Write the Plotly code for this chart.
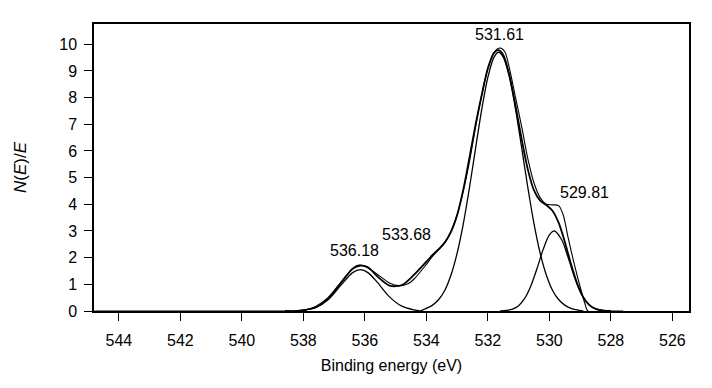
import plotly.graph_objects as go

# ---- data (binding energy in eV, N(E)/E) ----
# measured spectrum (thin line)
data_x = [544.8, 539.0, 538.4, 538.0, 537.6, 537.2, 536.8, 536.4, 536.2, 536.0, 535.6,
          535.2, 534.9, 534.6, 534.4, 534.0, 533.8, 533.6, 533.4, 533.2, 533.0, 532.8,
          532.6, 532.4, 532.2, 532.0, 531.8, 531.6, 531.45, 531.3, 531.1, 530.9, 530.7,
          530.5, 530.3, 530.1, 529.9, 529.7, 529.55, 529.4, 529.2, 529.0, 528.85, 528.75,
          528.0, 527.6]
data_y = [0.0, 0.0, 0.0, 0.02, 0.17, 0.5, 1.05, 1.6, 1.72, 1.68, 1.38,
          1.05, 0.95, 1.02, 1.2, 1.75, 2.05, 2.3, 2.55, 3.0, 3.6, 4.5,
          5.6, 6.9, 8.1, 9.1, 9.7, 9.86, 9.72, 9.1, 8.0, 6.9, 5.7,
          4.8, 4.25, 4.0, 3.98, 3.95, 3.6, 2.8, 1.8, 0.9, 0.3, 0.0,
          0.0, 0.0]

# fitted envelope (thicker line)
fit_x = [538.6, 538.2, 538.0, 537.6, 537.2, 536.8, 536.4, 536.15, 535.9, 535.6, 535.2,
         534.8, 534.4, 534.0, 533.8, 533.6, 533.4, 533.2, 533.0, 532.8, 532.6, 532.4,
         532.2, 532.0, 531.8, 531.65, 531.5, 531.3, 531.1, 530.9, 530.7, 530.5, 530.3,
         530.1, 529.9, 529.7, 529.5, 529.3, 529.1, 528.9, 528.7, 528.5, 528.3, 528.0]
fit_y = [0.0, 0.0, 0.03, 0.14, 0.45, 1.02, 1.58, 1.70, 1.64, 1.30, 0.95,
         0.97, 1.36, 1.85, 2.10, 2.32, 2.58, 2.97, 3.6, 4.55, 5.75, 7.0,
         8.1, 9.1, 9.68, 9.78, 9.6, 8.84, 7.69, 6.43, 5.3, 4.52, 4.14,
         3.97, 3.76, 3.31, 2.6, 1.77, 1.04, 0.52, 0.22, 0.08, 0.02, 0.0]

# component peak at 536.18 eV
pk1_x = [538.2, 538.0, 537.6, 537.2, 536.8, 536.4, 536.15, 535.9, 535.6, 535.2, 534.8, 534.4, 534.2]
pk1_y = [0.0, 0.03, 0.13, 0.42, 0.94, 1.44, 1.55, 1.44, 1.08, 0.53, 0.18, 0.04, 0.0]

# component peak at 531.61 eV
pk2_x = [534.2, 534.0, 533.8, 533.6, 533.4, 533.2, 533.0, 532.8, 532.6, 532.4, 532.2,
         532.0, 531.8, 531.65, 531.5, 531.3, 531.1, 530.9, 530.7, 530.5, 530.3, 530.1,
         529.9, 529.7, 529.5, 529.3, 529.1, 528.9]
pk2_y = [0.0, 0.10, 0.22, 0.43, 0.78, 1.35, 2.17, 3.27, 4.62, 6.11, 7.56,
         8.77, 9.52, 9.7, 9.52, 8.77, 7.56, 6.11, 4.62, 3.27, 2.17, 1.35,
         0.78, 0.43, 0.22, 0.10, 0.04, 0.0]

# component peak at 529.81 eV
pk3_x = [531.6, 531.4, 531.2, 531.0, 530.8, 530.6, 530.4, 530.2, 530.0, 529.84, 529.6,
         529.4, 529.2, 529.0, 528.8, 528.6, 528.4, 528.2, 528.0]
pk3_y = [0.0, 0.02, 0.07, 0.20, 0.48, 0.95, 1.60, 2.32, 2.85, 3.0, 2.67,
         2.04, 1.32, 0.73, 0.35, 0.14, 0.05, 0.01, 0.0]

peak_labels = ["531.61", "529.81", "533.68", "536.18"]
label_x = [531.63, 528.86, 534.66, 536.33]
label_y = [10.37, 4.46, 2.88, 2.27]

x_ticks = [544, 542, 540, 538, 536, 534, 532, 530, 528, 526]
y_ticks = [0, 1, 2, 3, 4, 5, 6, 7, 8, 9, 10]

FONT = "Liberation Sans, Arial, sans-serif"

fig = go.Figure()
for xs, ys, w in [(pk1_x, pk1_y, 1.3), (pk2_x, pk2_y, 1.3), (pk3_x, pk3_y, 1.3),
                  (fit_x, fit_y, 1.8), (data_x, data_y, 1.1)]:
    fig.add_trace(go.Scatter(x=xs, y=ys, mode="lines",
                             line=dict(color="black", width=w, shape="spline", smoothing=0.8),
                             showlegend=False, hoverinfo="skip"))

for t, xx, yy in zip(peak_labels, label_x, label_y):
    fig.add_annotation(x=xx, y=yy, text=t, showarrow=False,
                       font=dict(family=FONT, size=16, color="black"),
                       xanchor="center", yanchor="middle")

fig.update_layout(
    width=712, height=388,
    margin=dict(l=86, r=31, t=16, b=85),
    paper_bgcolor="white", plot_bgcolor="white",
    font=dict(family=FONT, size=16, color="black"),
    xaxis=dict(range=[544.81, 525.46], tickvals=x_ticks,
               ticktext=[str(v) for v in x_ticks], automargin=False,
               ticks="outside", ticklen=8, tickwidth=1, tickcolor="black",
               showline=True, linecolor="black", linewidth=1.5, mirror=True,
               showgrid=False, zeroline=False, ticklabelstandoff=6,
               title=dict(text="Binding energy (eV)", standoff=12,
                          font=dict(family=FONT, size=16))),
    yaxis=dict(range=[0, 10.76], tickvals=y_ticks,
               ticktext=[str(v) for v in y_ticks], automargin=False,
               ticks="outside", ticklen=8, tickwidth=1, tickcolor="black",
               showline=True, linecolor="black", linewidth=1.5, mirror=True,
               showgrid=False, zeroline=False, ticklabelstandoff=4,
               title=dict(text="<i>N</i>(<i>E</i>)/<i>E</i>", standoff=28,
                          font=dict(family=FONT, size=17))),
)

fig.write_html("out.html")
